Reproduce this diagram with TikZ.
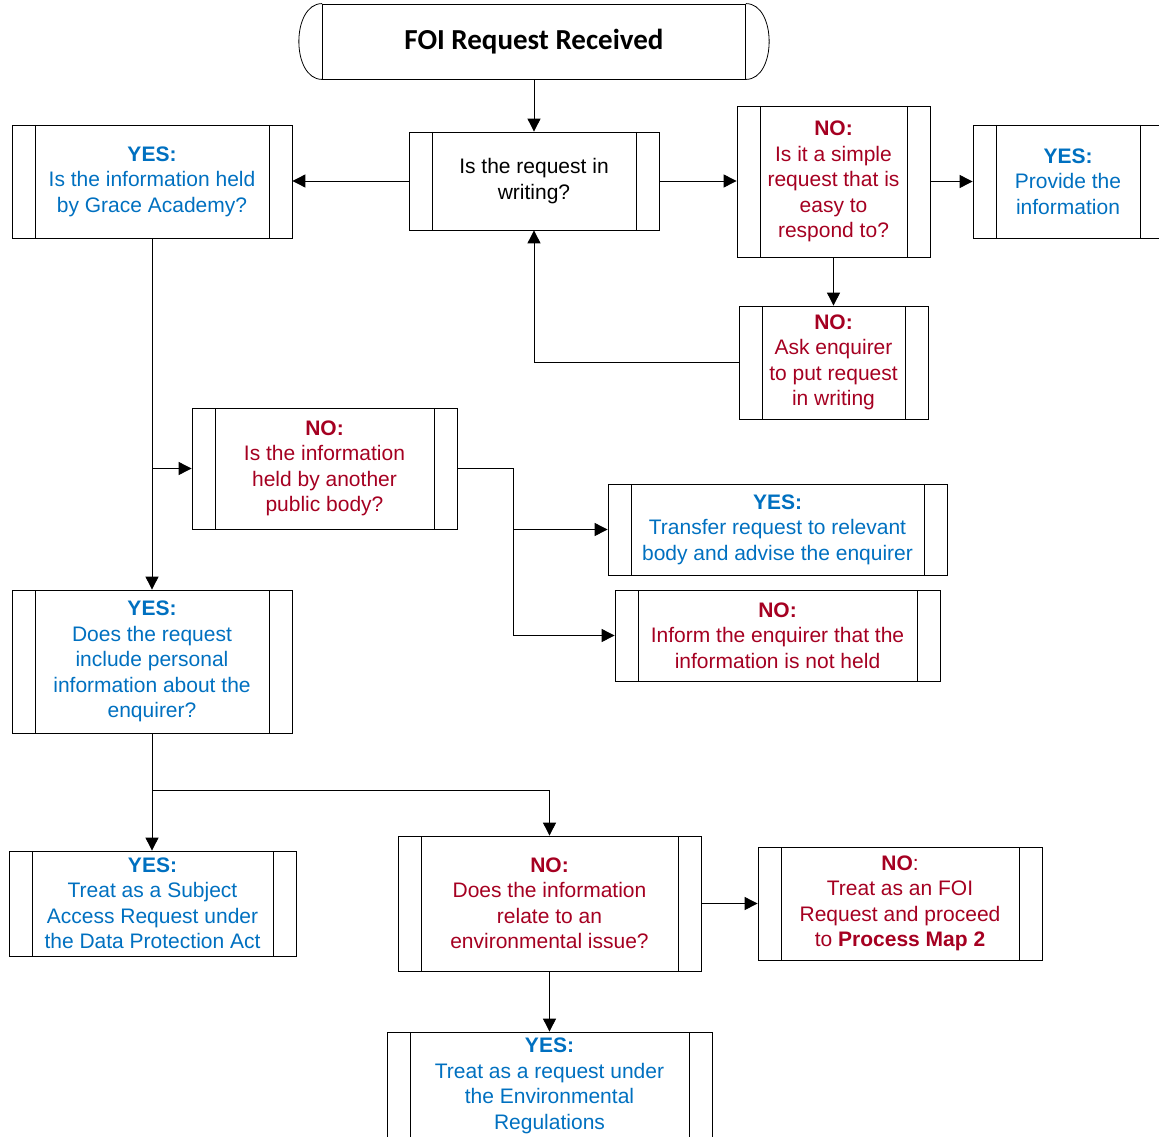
\documentclass[tikz,border=0pt]{standalone}
\usepackage{fontspec}
\setmainfont{Liberation Sans}
\newfontfamily\titlefont{Carlito}
\usetikzlibrary{positioning,calc,arrows.meta}
\definecolor{yesblue}{HTML}{0070C0}
\definecolor{nored}{HTML}{A50021}
\tikzset{
  procbox/.style={draw, rectangle, inner sep=0pt, align=center, line width=0.8pt,
    font=\fontsize{21}{25.5}\selectfont,
    path picture={
      \draw[line width=0.8pt] ([xshift=23pt]path picture bounding box.north west) -- ([xshift=23pt]path picture bounding box.south west);
      \draw[line width=0.8pt] ([xshift=-23pt]path picture bounding box.north east) -- ([xshift=-23pt]path picture bounding box.south east);
    }},
  yesbox/.style={procbox, text=yesblue},
  nobox/.style={procbox, text=nored},
  flow/.style={-{Triangle[length=13pt,width=13pt]}, line width=0.9pt}
}

\begin{document}
\begin{tikzpicture}[x=1pt, y=-1pt]
    \useasboundingbox (0,0) rectangle (1159,1137);
    \clip (0,0) rectangle (1159,1137);

    % Start
    \node[draw, line width=0.8pt, minimum width=423pt, minimum height=75pt, inner sep=0pt,
          font=\titlefont\bfseries\fontsize{29}{34}\selectfont] (req) at (534,41.5) {FOI Request Received};
    \draw[line width=0.8pt] (req.north west) .. controls +(-31,0) and +(-31,0) .. (req.south west);
    \draw[line width=0.8pt] (req.north east) .. controls +(31,0) and +(31,0) .. (req.south east);

    % Top row
    \node[procbox, minimum width=250pt, minimum height=98pt] (writing) at (534,181) {Is the request in\\writing?};
    \node[yesbox, minimum width=280pt, minimum height=113pt] (held) at (152,181.5)
        {\textbf{YES:}\\Is the information held\\by Grace Academy?};
    \node[nobox, minimum width=193pt, minimum height=151pt] (simple) at (833.5,181.5)
        {\textbf{NO:}\\Is it a simple\\request that is\\easy to\\respond to?};
    \node[yesbox, minimum width=190pt, minimum height=113pt] (provide) at (1068,181.5)
        {\textbf{YES:}\\Provide the\\information};
    \node[nobox, minimum width=189pt, minimum height=113pt] (ask) at (833.5,362.5)
        {\textbf{NO:}\\Ask enquirer\\to put request\\in writing};

    % Other public body
    \node[nobox, minimum width=265pt, minimum height=121pt] (other) at (324.5,468.5)
        {\textbf{NO:}\\Is the information\\held by another\\public body?};
    \node[yesbox, minimum width=339pt, minimum height=91pt] (transfer) at (777.5,529.5)
        {\textbf{YES:}\\Transfer request to relevant\\body and advise the enquirer};
    \node[nobox, minimum width=325pt, minimum height=91pt] (notheld) at (777.5,635.5)
        {\textbf{NO:}\\Inform the enquirer that the\\information is not held};

    % Personal information
    \node[yesbox, minimum width=280pt, minimum height=143pt] (personal) at (152,661.5)
        {\textbf{YES:}\\Does the request\\include personal\\information about the\\enquirer?};
    \node[yesbox, minimum width=287pt, minimum height=105pt] (subject) at (152.5,903.5)
        {\textbf{YES:}\\Treat as a Subject\\Access Request under\\the Data Protection Act};
    \node[nobox, minimum width=303pt, minimum height=135pt] (env) at (549.5,903.5)
        {\textbf{NO:}\\Does the information\\relate to an\\environmental issue?};
    \node[nobox, minimum width=284pt, minimum height=113pt] (foi) at (900,903.5)
        {\textbf{NO}:\\Treat as an FOI\\Request and proceed\\to \textbf{Process Map 2}};
    \node[yesbox, minimum width=325pt, minimum height=108pt] (envreg) at (549.5,1086)
        {\textbf{YES:}\\Treat as a request under\\the Environmental\\Regulations};

    % Connectors
    \draw[flow] (req.south) -- (writing.north);
    \draw[flow] (writing.west) -- (writing.west -| held.east);
    \draw[flow] (writing.east) -- (writing.east -| simple.west);
    \draw[flow] (simple.east) -- (simple.east -| provide.west);
    \draw[flow] (simple.south) -- (ask.north);
    \draw[flow] (ask.west) -| (writing.south);
    \draw[flow] (held.south) -- (personal.north);
    \draw[flow] (held.south |- other.west) -- (other.west);
    \coordinate (split) at ($(other.east)+(56,0)$);
    \draw[flow] (other.east) -- (split) |- (transfer.west);
    \draw[flow] (split) |- (notheld.west);
    \draw[flow] (personal.south) -- (personal.south |- subject.north);
    \coordinate (fork) at ($(personal.south)+(0,57)$);
    \draw[flow] (fork) -| (env.north);
    \draw[flow] (env.east) -- (foi.west);
    \draw[flow] (env.south) -- (envreg.north);
\end{tikzpicture}
\end{document}
